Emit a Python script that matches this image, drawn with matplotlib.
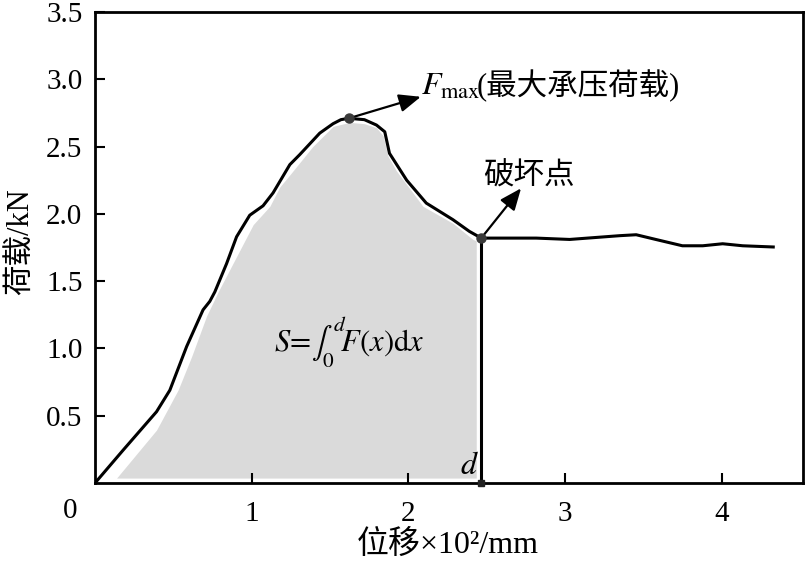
import matplotlib
matplotlib.use("Agg")
import matplotlib.pyplot as plt
import numpy as np

plt.rcParams['font.family'] = ['Liberation Serif', 'Noto Sans CJK SC']
plt.rcParams['mathtext.fontset'] = 'stix'

# Load-displacement curve (x: displacement x10^2 mm, y: load kN)
disp = [0.0, 0.18, 0.393, 0.478, 0.585, 0.69, 0.733, 0.765, 0.84, 0.904, 0.988, 1.073,
        1.137, 1.244, 1.307, 1.435, 1.52, 1.57, 1.62, 1.72, 1.797, 1.85, 1.88, 1.935, 1.99,
        2.115, 2.285, 2.39, 2.466]
load = [0.0, 0.245, 0.53, 0.69, 1.014, 1.287, 1.35, 1.42, 1.63, 1.83, 1.99, 2.06,
        2.156, 2.366, 2.44, 2.60, 2.67, 2.70, 2.71, 2.70, 2.66, 2.61, 2.45, 2.35, 2.25,
        2.08, 1.957, 1.87, 1.82]
# post-failure plateau
disp_post = [2.466, 2.817, 3.03, 3.35, 3.455, 3.58, 3.75, 3.88, 4.007, 4.135, 4.33]
load_post = [1.82, 1.82, 1.81, 1.838, 1.845, 1.81, 1.763, 1.763, 1.778, 1.763, 1.754]

# upper edge of the shaded integral area
fill_x = [0.138, 0.393, 0.53, 0.617, 0.712, 0.786, 0.925, 1.01, 1.116, 1.18,
          1.244, 1.39, 1.52, 1.626, 1.72, 1.797, 1.84, 1.87, 1.924, 2.094, 2.285, 2.413, 2.434]
fill_y = [0.037, 0.394, 0.69, 0.94, 1.24, 1.42, 1.73, 1.92, 2.056, 2.2,
          2.29, 2.50, 2.65, 2.68, 2.67, 2.64, 2.58, 2.43, 2.32, 2.056, 1.93, 1.81, 1.80]
fill_base = 0.037

peak = (1.62, 2.71)
fail = (2.466, 1.82)

xticks = [1, 2, 3, 4]
yticks = [0.5, 1.0, 1.5, 2.0, 2.5, 3.0, 3.5]

fig = plt.figure(figsize=(8.09, 5.63), dpi=100)
ax = fig.add_axes([0.1174, 0.142, 0.8752, 0.8367])

ax.fill_between(fill_x, fill_base, fill_y, color='#dadada', lw=0, zorder=1)

ax.plot(disp, load, color='black', lw=2.2, zorder=3, solid_joinstyle='round')
ax.plot(disp_post, load_post, color='black', lw=2.2, zorder=3, solid_joinstyle='round')
ax.plot([fail[0], fail[0]], [fail[1], 0], color='black', lw=2.2, zorder=3)

ax.plot([peak[0], fail[0]], [peak[1], fail[1]], 'o', color='#3a3a3a', ms=6.5, zorder=4, ls='none')
ax.plot([fail[0]], [0], 's', color='#222222', ms=5, zorder=5, clip_on=False)

ax.annotate('', xy=(2.08, 2.87), xytext=peak,
            arrowprops=dict(arrowstyle='-|>,head_length=0.6,head_width=0.25', color='black', lw=1.6,
                            mutation_scale=22, shrinkA=0, shrinkB=0))
ax.annotate('', xy=(2.72, 2.19), xytext=fail,
            arrowprops=dict(arrowstyle='-|>,head_length=0.6,head_width=0.25', color='black', lw=1.6,
                            mutation_scale=22, shrinkA=0, shrinkB=0))

ax.text(2.08, 2.885, r'$F_{\mathrm{max}}$', fontsize=23, va='baseline', ha='left')
ax.text(2.435, 2.885, '(最大承压荷载)', fontsize=22, va='baseline', ha='left')
ax.text(2.77, 2.27, '破坏点', fontsize=22, va='center', ha='center')
ax.text(1.62, 1.05, r'$S\!=\!\int_0^{d}\! F(x)\mathrm{d}x$', fontsize=22, va='center', ha='center')
ax.text(2.39, 0.12, r'$d$', fontsize=23, va='center', ha='center')

ax.set_xlim(0, 4.52)
ax.set_ylim(0, 3.5)
ax.set_xticks(xticks)
ax.set_yticks(yticks)
ax.set_xticklabels([str(t) for t in xticks])
ax.set_yticklabels([f'{t:.1f}' for t in yticks])
ax.tick_params(direction='in', length=7, width=1.5, labelsize=21)
ax.tick_params(axis='x', pad=13)
ax.tick_params(axis='y', pad=9)
for s in ax.spines.values():
    s.set_linewidth(2.0)
ax.text(-0.035, -0.06, '0', transform=ax.transAxes, fontsize=21, ha='center', va='center')

fig.text(20 / 809, 1 - 242 / 563, '荷载/kN', fontsize=22, rotation=90, ha='center', va='center')
fig.text(448 / 809, 1 - 545 / 563, '位移×10²/mm', fontsize=23, ha='center', va='center')

fig.savefig('out.png', dpi=100)
